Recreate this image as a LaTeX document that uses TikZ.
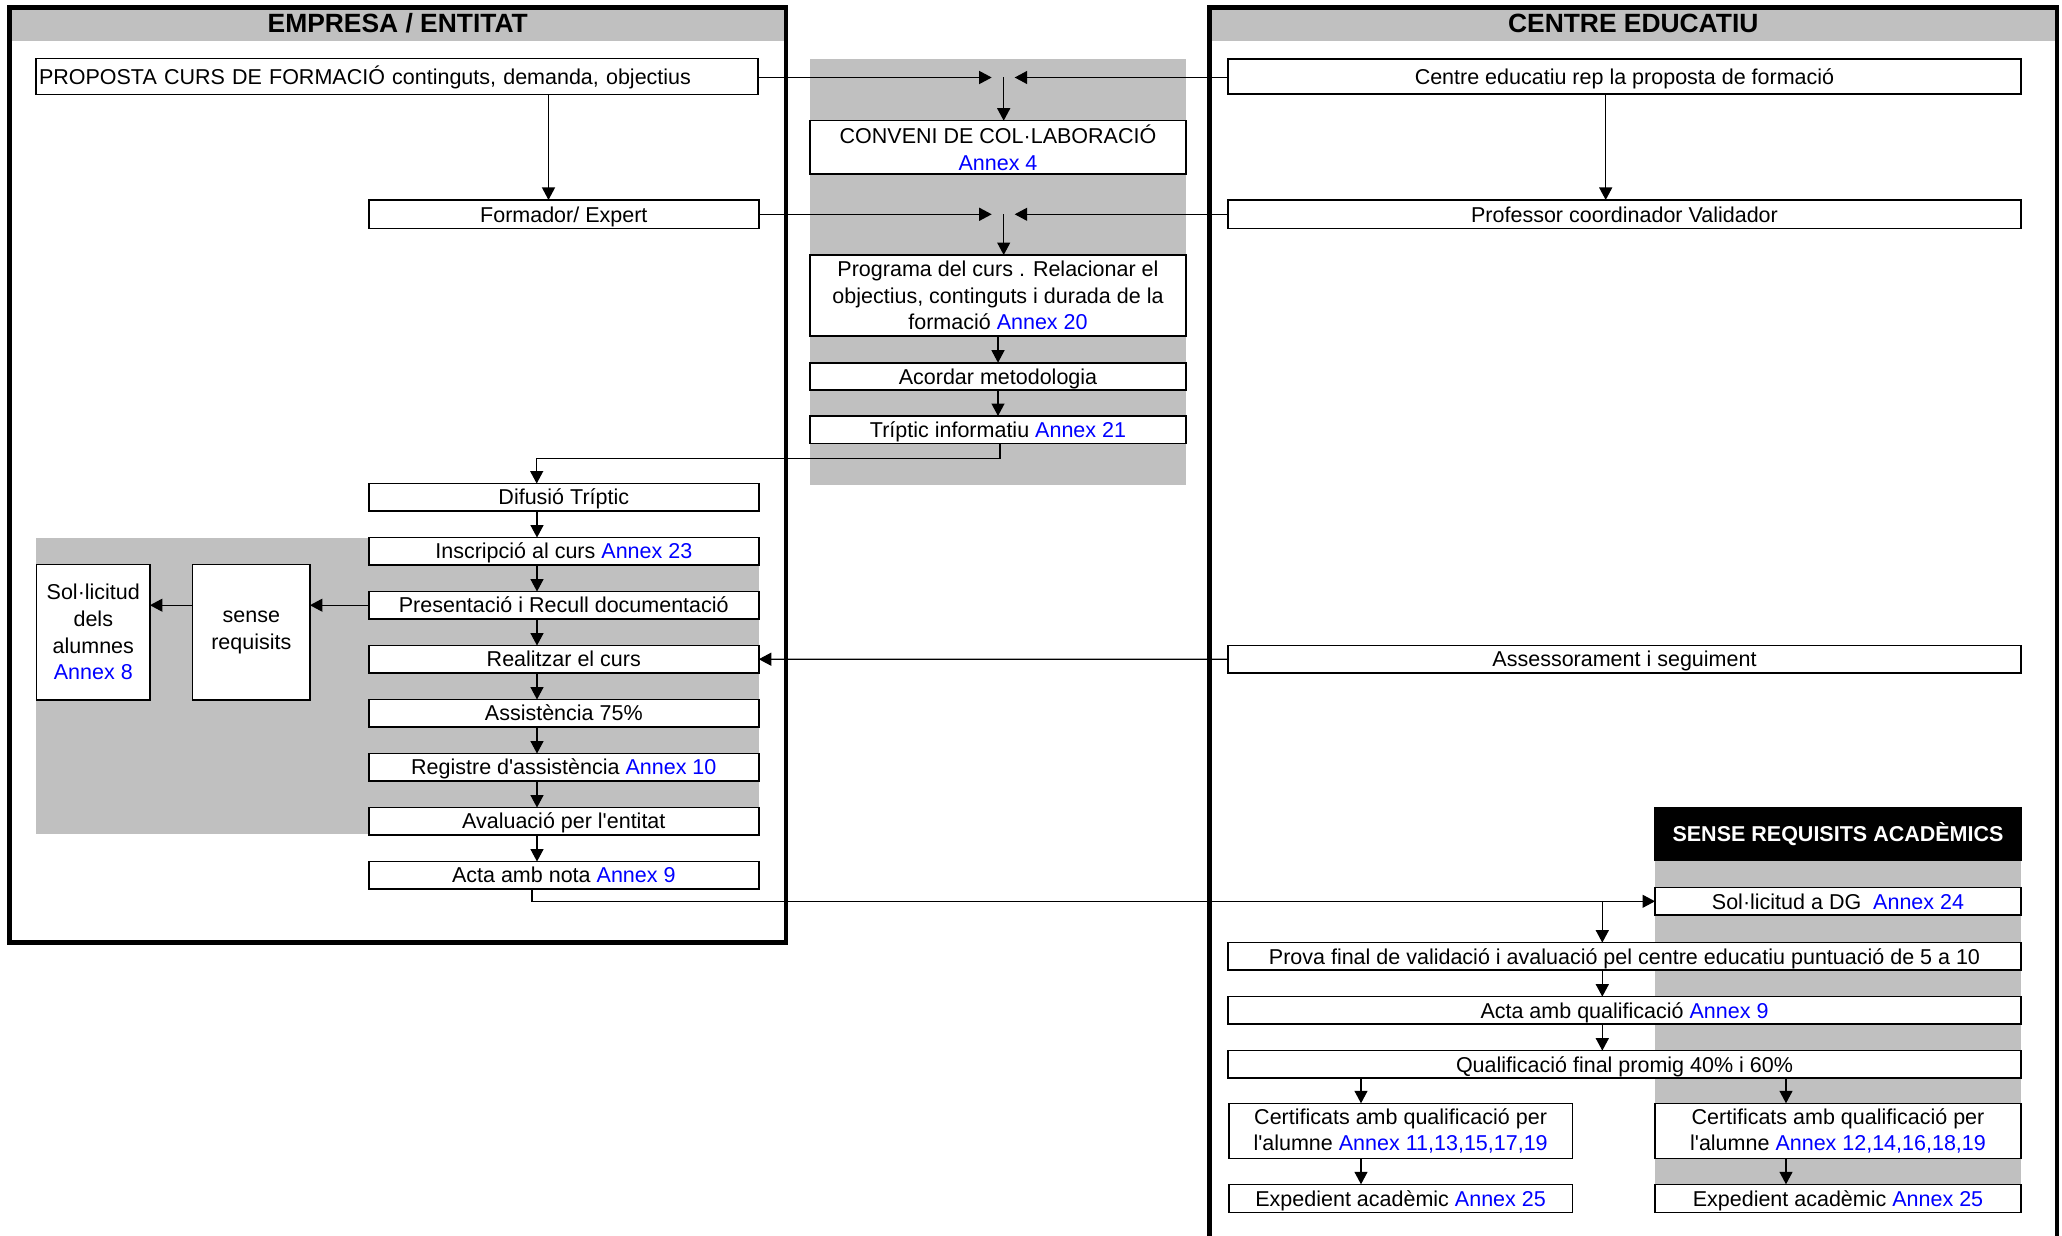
\documentclass[tikz,border=0pt]{standalone}
\usepackage{fontspec}
\setmainfont{Liberation Sans}
\usepackage{xcolor}
\usetikzlibrary{positioning,arrows.meta}

\definecolor{panelgray}{RGB}{192,192,192}
\definecolor{annexblue}{RGB}{0,0,255}
\newcommand{\annex}[1]{\textcolor{annexblue}{Annex #1}}

\begin{document}
\begin{tikzpicture}[x=1pt,y=-1pt,
    every node/.style={font=\fontsize{21.5}{26.7}\selectfont},
    box/.style={rectangle, draw, fill=white, line width=1.6pt, inner sep=0pt, outer sep=0pt, align=center, minimum height=27.3pt},
    oneline/.style={box, text height=20pt, text depth=4.6pt},
    lbox/.style={oneline, minimum width=390pt},
    mbox/.style={oneline, minimum width=376pt},
    rbox/.style={oneline, minimum width=793pt},
    hbox/.style={oneline, minimum width=366pt},
    panelframe/.style={line width=4.5pt},
    paneltitle/.style={anchor=base, font=\fontsize{26.4}{30}\selectfont\bfseries},
    arr/.style={line width=1.3pt, -{Triangle[length=12.5pt,width=13pt]}}]
    \useasboundingbox (0,0) rectangle (2062,1236);

    % grey bands
    \fill[panelgray] (9.5,7.5) rectangle (786,41);
    \fill[panelgray] (1209.5,7.5) rectangle (2057,41);
    \fill[panelgray] (810,59) rectangle (1186,485);
    \fill[panelgray] (36,537.7) rectangle (759,834);
    \fill[panelgray] (1655,860) rectangle (2021,1185);

    % the two panels
    \draw[panelframe] (9.5,7.5) rectangle (786,942.5);
    \draw[panelframe] (1209.5,1236) -- (1209.5,7.5) -- (2057,7.5) -- (2057,1236);
    \node[paneltitle] (empresa) at (397.75,32.5) {EMPRESA / ENTITAT};
    \node[paneltitle] (centre) at (1633.25,32.5) {CENTRE EDUCATIU};

    % empresa / entitat
    \node[oneline, minimum width=722pt, minimum height=36pt, text width=716pt, align=left] (prop) at (397,76.7) {PROPOSTA CURS DE FORMACIÓ continguts, demanda, objectius};
    \node[lbox, minimum height=28.7pt] (form) at (563.8,214.3) {Formador/ Expert};
    \node[lbox] (dif) at (563.8,497.2) {Difusió Tríptic};
    \node[lbox, below=26.7pt of dif] (insc) {Inscripció al curs \annex{23}};
    \node[lbox, below=26.7pt of insc] (pres) {Presentació i Recull documentació};
    \node[lbox, below=26.7pt of pres] (real) {Realitzar el curs};
    \node[lbox, below=26.7pt of real] (asis) {Assistència 75\%};
    \node[lbox, below=26.7pt of asis] (regi) {Registre d\textquotesingle assistència \annex{10}};
    \node[lbox, below=26.7pt of regi] (aval) {Avaluació per l\textquotesingle entitat};
    \node[lbox, below=26.7pt of aval] (acta) {Acta amb nota \annex{9}};
    \node[box, minimum width=113.3pt, minimum height=135.7pt] (sol) at (93.3,632.2) {Sol·licitud\\dels\\alumnes\\\annex{8}};
    \node[box, minimum width=117.3pt, minimum height=135.7pt] (sense) at (251.3,632.2) {sense\\requisits};

    % middle column
    \node[box, minimum width=376pt, minimum height=53.6pt] (conv) at (998,147.5) {CONVENI DE COL·LABORACIÓ\\\annex{4}};
    \node[box, minimum width=376pt, minimum height=81pt] (prog) at (998,295.5) {Programa del curs . Relacionar el\\objectius, continguts i durada de la\\formació \annex{20}};
    \node[mbox, below=26.7pt of prog] (acor) {Acordar metodologia};
    \node[mbox, below=26pt of acor] (trip) {Tríptic informatiu \annex{21}};

    % centre educatiu
    \node[rbox, minimum height=35.3pt] (rep) at (1624.5,76.4) {Centre educatiu rep la proposta de formació};
    \node[rbox, minimum height=28.7pt] (prof) at (1624.5,214.3) {Professor coordinador Validador};
    \node[rbox] (asse) at (1624.5,659.2) {Assessorament i seguiment};
    \node[hbox, minimum height=52.7pt, fill=black, text=white, font=\fontsize{21.5}{26}\selectfont\bfseries] (srhead) at (1838,833.7) {SENSE REQUISITS ACADÈMICS};
    \node[hbox] (sdg) at (1838,901.3) {Sol·licitud a DG \ \annex{24}};
    \node[rbox] (prova) at (1624.5,956.3) {Prova final de validació i avaluació pel centre educatiu puntuació de 5 a 10};
    \node[rbox, below=26.7pt of prova] (actq) {Acta amb qualificació \annex{9}};
    \node[rbox, below=26.7pt of actq] (qual) {Qualificació final promig 40\% i 60\%};
    \node[box, minimum width=343.8pt, minimum height=55pt] (certl) at (1400.6,1130.8) {Certificats amb qualificació per\\l\textquotesingle alumne \annex{11,13,15,17,19}};
    \node[box, minimum width=366pt, minimum height=55pt] (certr) at (1838,1130.8) {Certificats amb qualificació per\\l\textquotesingle alumne \annex{12,14,16,18,19}};
    \node[oneline, minimum width=343.8pt, minimum height=28pt] (expl) at (1400.6,1198.3) {Expedient acadèmic \annex{25}};
    \node[hbox, minimum height=28pt] (expr) at (1838,1198.3) {Expedient acadèmic \annex{25}};

    % connectors
    \coordinate (pf) at (548.5,0);
    \coordinate (rp) at (1605.7,0);
    \draw[arr] (prop.south -| pf) -- (form.north -| pf);
    \draw[arr] (rep.south -| rp) -- (prof.north -| rp);

    \coordinate (m1) at (1003.7,77.5);
    \coordinate (m2) at (1003.7,214.3);
    \draw[arr] (prop.east |- m1) -- ([xshift=-12pt]m1);
    \draw[arr] (rep.west |- m1) -- ([xshift=11pt]m1);
    \draw[arr] (m1) -- (m1 |- conv.north);
    \draw[arr] (form.east |- m2) -- ([xshift=-12pt]m2);
    \draw[arr] (prof.west |- m2) -- ([xshift=11pt]m2);
    \draw[arr] (m2) -- (m2 |- prog.north);

    \draw[arr] (prog.south) -- (acor.north);
    \draw[arr] (acor.south) -- (trip.north);
    \coordinate (td) at (536.7,458.3);
    \draw[arr] ([xshift=2pt]trip.south) |- (td) -- (td |- dif.north);

    \coordinate (lc) at (537,0);
    \draw[arr] (dif.south -| lc) -- (insc.north -| lc);
    \draw[arr] (insc.south -| lc) -- (pres.north -| lc);
    \draw[arr] (pres.south -| lc) -- (real.north -| lc);
    \draw[arr] (real.south -| lc) -- (asis.north -| lc);
    \draw[arr] (asis.south -| lc) -- (regi.north -| lc);
    \draw[arr] (regi.south -| lc) -- (aval.north -| lc);
    \draw[arr] (aval.south -| lc) -- (acta.north -| lc);
    \draw[arr] (pres.west) -- (sense.east |- pres.west);
    \draw[arr] (sense.west |- pres.west) -- (sol.east |- pres.west);
    \draw[arr] (asse.west) -- (real.east);

    \coordinate (ad) at (532,0);
    \draw[arr] (acta.south -| ad) |- (sdg.west);
    \coordinate (rc) at (1602.3,0);
    \draw[arr] (sdg.west -| rc) -- (prova.north -| rc);
    \draw[arr] (prova.south -| rc) -- (actq.north -| rc);
    \draw[arr] (actq.south -| rc) -- (qual.north -| rc);
    \coordinate (ql) at (1361,0);
    \coordinate (qr) at (1786,0);
    \draw[arr] (qual.south -| ql) -- (certl.north -| ql);
    \draw[arr] (qual.south -| qr) -- (certr.north -| qr);
    \draw[arr] (certl.south -| ql) -- (expl.north -| ql);
    \draw[arr] (certr.south -| qr) -- (expr.north -| qr);
\end{tikzpicture}
\end{document}
